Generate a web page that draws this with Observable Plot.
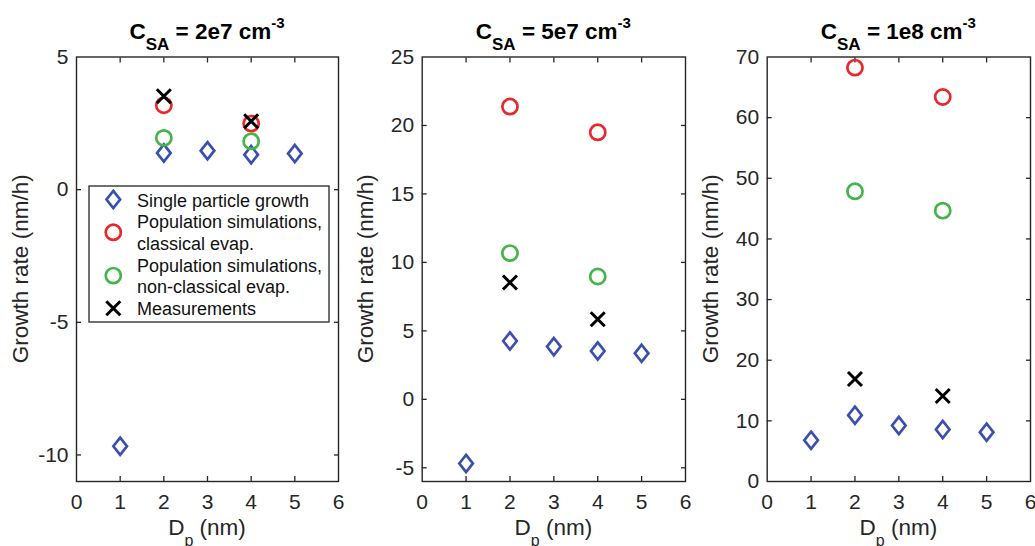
<!DOCTYPE html>
<html><head><meta charset="utf-8">
<script src="https://cdn.jsdelivr.net/npm/d3@7"></script>
<script src="https://cdn.jsdelivr.net/npm/@observablehq/plot@0.6"></script>
<style>
body{margin:0;background:#fff;}
#wrap{position:relative;width:1035px;height:546px;overflow:hidden;background:#fff;}
.panel{position:absolute;top:0;}
</style></head><body><div id="wrap"></div>
<script>
// ---- data ----
const dpSingle = [1, 2, 3, 4, 5];
const dpSim = [2, 4];
const concLabels = ["2e7", "5e7", "1e8"];
const single2e7 = [-9.67, 1.38, 1.47, 1.32, 1.36];
const classical2e7 = [3.18, 2.49];
const nonClassical2e7 = [1.95, 1.82];
const meas2e7 = [3.52, 2.58];
const single5e7 = [-4.68, 4.26, 3.85, 3.53, 3.36];
const classical5e7 = [21.38, 19.5];
const nonClassical5e7 = [10.68, 8.97];
const meas5e7 = [8.53, 5.85];
const single1e8 = [6.8, 10.94, 9.24, 8.58, 8.13];
const classical1e8 = [68.25, 63.4];
const nonClassical1e8 = [47.85, 44.66];
const meas1e8 = [16.9, 14.1];
const xTicks = [0, 1, 2, 3, 4, 5, 6];
const yTicks2e7 = [-10, -5, 0, 5];
const yTicks5e7 = [-5, 0, 5, 10, 15, 20, 25];
const yTicks1e8 = [0, 10, 20, 30, 40, 50, 60, 70];
const yDomains = [[-11, 5], [-6, 25], [0, 70]];
const seriesNames = ["Single particle growth", "Population simulations,\nclassical evap.", "Population simulations,\nnon-classical evap.", "Measurements"];

// ---- styles ----
const BLUE = "#3a4fae", RED = "#e8282b", GREEN = "#44b54a", AX = "#262626";
const FONT = "'Liberation Sans', Arial, Helvetica, sans-serif";
const diamondSym = {draw(c) { c.moveTo(0, -8.6); c.lineTo(6.8, 0); c.lineTo(0, 8.6); c.lineTo(-6.8, 0); c.closePath(); }};
const circleSym = {draw(c) { c.moveTo(7.6, 0); c.arc(0, 0, 7.6, 0, 2 * Math.PI); }};
const timesSym = {draw(c) { const s = 7; c.moveTo(-s, -s); c.lineTo(s, s); c.moveTo(s, -s); c.lineTo(-s, s); }};
const fmt = d => String(d);

const panels = [
  {left: 0, mL: 76, mR: 7, single: single2e7, cl: classical2e7, nc: nonClassical2e7, me: meas2e7, yTicks: yTicks2e7},
  {left: 345, mL: 76.7, mR: 5, single: single5e7, cl: classical5e7, nc: nonClassical5e7, me: meas5e7, yTicks: yTicks5e7},
  {left: 690, mL: 76.7, mR: 5, single: single1e8, cl: classical1e8, nc: nonClassical1e8, me: meas1e8, yTicks: yTicks1e8}
];
const W = 345, H = 546, mT = 56.5, mB = 65;
const wrap = document.getElementById("wrap");
const tk = {tickSize: 5, tickFormat: () => "", label: null, stroke: AX, strokeWidth: 1.3};

panels.forEach((p, k) => {
  const singleData = dpSingle.map((d, i) => ({x: d, y: p.single[i]}));
  const clData = dpSim.map((d, i) => ({x: d, y: p.cl[i]}));
  const ncData = dpSim.map((d, i) => ({x: d, y: p.nc[i]}));
  const meData = dpSim.map((d, i) => ({x: d, y: p.me[i]}));
  const inner = xTicks.slice(1, -1);
  const innerY = p.yTicks.filter(v => v > yDomains[k][0] && v < yDomains[k][1]);
  const svg = Plot.plot({
    width: W, height: H,
    marginLeft: p.mL, marginRight: p.mR, marginTop: mT, marginBottom: mB,
    style: {fontFamily: FONT, background: "transparent", overflow: "visible", color: AX},
    x: {domain: [0, 6]},
    y: {domain: yDomains[k]},
    marks: [
      Plot.axisX({ticks: xTicks, tickSize: 0, tickPadding: 13, fontSize: 21, label: null, fill: AX, tickFormat: fmt}),
      Plot.axisY({ticks: p.yTicks, tickSize: 0, tickPadding: 8, fontSize: 21, label: null, fill: AX, tickFormat: fmt}),
      Plot.axisX({...tk, ticks: inner, anchor: "bottom", dy: -5}),
      Plot.axisX({...tk, ticks: inner, anchor: "top", dy: 5}),
      Plot.axisY({...tk, ticks: innerY, anchor: "left", dx: 5}),
      Plot.axisY({...tk, ticks: innerY, anchor: "right", dx: -5}),
      Plot.frame({stroke: AX, strokeWidth: 1.4}),
      Plot.dot(singleData, {x: "x", y: "y", symbol: diamondSym, r: 8, stroke: BLUE, strokeWidth: 2.7, fill: "none"}),
      Plot.dot(clData, {x: "x", y: "y", symbol: circleSym, r: 8, stroke: RED, strokeWidth: 2.7, fill: "none"}),
      Plot.dot(ncData, {x: "x", y: "y", symbol: circleSym, r: 8, stroke: GREEN, strokeWidth: 2.7, fill: "none"}),
      Plot.dot(meData, {x: "x", y: "y", symbol: timesSym, r: 8, stroke: "#000", strokeWidth: 3, fill: "none"})
    ]
  });
  const div = document.createElement("div");
  div.className = "panel";
  div.style.left = p.left + "px";
  div.appendChild(svg);
  wrap.appendChild(div);

  const s = d3.select(svg);
  const cx = p.mL + (W - p.mL - p.mR) / 2;
  // title
  const t = s.append("text").attr("x", cx).attr("y", 38.5).attr("text-anchor", "middle")
    .attr("font-family", FONT).attr("font-weight", "bold").attr("font-size", 22.5).attr("fill", "#000");
  t.append("tspan").text("C");
  t.append("tspan").attr("font-size", 17).attr("dy", 11.5).text("SA");
  t.append("tspan").attr("dy", -11.5).text(" = " + concLabels[k] + " cm");
  t.append("tspan").attr("font-size", 15).attr("dy", -10.5).text("-3");
  // y label
  s.append("text").attr("transform", "translate(28," + (mT + (H - mT - mB) / 2) + ") rotate(-90)")
    .attr("text-anchor", "middle").attr("font-family", FONT).attr("font-size", 22.5).attr("fill", AX)
    .text("Growth rate (nm/h)");
  // x label
  const xl = s.append("text").attr("x", cx).attr("y", 535).attr("text-anchor", "middle")
    .attr("font-family", FONT).attr("font-size", 22.5).attr("fill", AX);
  xl.append("tspan").text("D");
  xl.append("tspan").attr("font-size", 16).attr("dy", 11).text("p");
  xl.append("tspan").attr("dy", -11).text(" (nm)");

  if (k === 0) {
    const g = s.append("g");
    g.append("rect").attr("x", 89).attr("y", 186).attr("width", 240).attr("height", 136)
      .attr("fill", "#fff").attr("stroke", AX).attr("stroke-width", 1.3);
    const mk = (sym, y, col, sw) => {
      const path = d3.path(); sym.draw(path);
      g.append("path").attr("d", path.toString()).attr("transform", `translate(113.3,${y})`)
        .attr("fill", "none").attr("stroke", col).attr("stroke-width", sw);
    };
    mk(diamondSym, 199.5, BLUE, 2.7);
    mk(circleSym, 232.3, RED, 2.7);
    mk(circleSym, 275.6, GREEN, 2.7);
    mk(timesSym, 308.3, "#000", 3);
    const lines = seriesNames.flatMap(n => n.split("\n"));
    lines.forEach((ln, i) => {
      g.append("text").attr("x", 137).attr("y", 206.5 + i * 21.7).attr("text-anchor", "start")
        .attr("font-family", FONT).attr("font-size", 18).attr("fill", "#111").text(ln);
    });
  }
});
</script></body></html>
